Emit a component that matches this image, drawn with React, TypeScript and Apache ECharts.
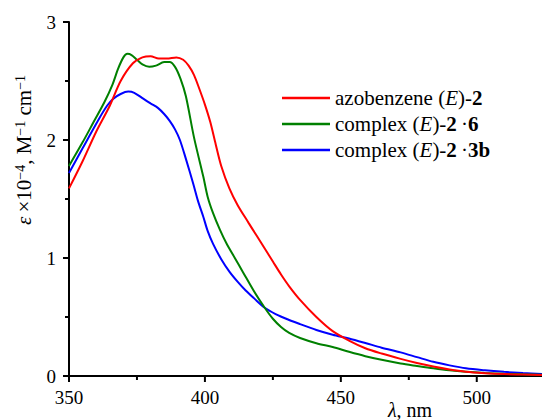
import React, { useEffect, useRef } from "react";
import * as echarts from "echarts";

const seriesNames = ["azobenzene (E)-2", "complex (E)-2·6", "complex (E)-2·3b"];
const legendLabels = [
  "azobenzene ({i|E})-{b|2}",
  "complex ({i|E})-{b|2}\u2009·{b|6}",
  "complex ({i|E})-{b|2}\u2009·{b|3b}",
];
const colors = ["#ff0000", "#008000", "#0000ff"];

const redX = [350, 355, 360, 365, 369, 373.5, 377, 380, 383, 386, 389.5, 392, 394, 396, 398, 400, 402, 404, 406, 409, 412, 416, 419, 422, 425, 428, 431, 435, 441, 447, 453, 459, 465, 472, 478, 484, 490, 496, 503, 510, 517, 524];
const redY = [1.59, 1.82, 2.07, 2.29, 2.5, 2.65, 2.7, 2.71, 2.69, 2.69, 2.7, 2.68, 2.63, 2.55, 2.43, 2.3, 2.15, 1.96, 1.78, 1.59, 1.45, 1.3, 1.19, 1.08, 0.97, 0.86, 0.76, 0.645, 0.5, 0.38, 0.3, 0.235, 0.19, 0.145, 0.11, 0.08, 0.055, 0.036, 0.024, 0.016, 0.012, 0.008];

const greenX = [350, 355, 359, 363, 366, 368, 370, 371.5, 373, 375, 377, 379.5, 382, 385, 387, 389, 391, 393, 396, 399.4, 401, 403, 405.5, 408, 411, 414, 418, 422, 425, 428, 431, 435, 441, 447, 453, 459, 465, 472, 478, 484, 490, 496, 503, 510, 517, 524];
const greenY = [1.78, 1.98, 2.15, 2.32, 2.47, 2.6, 2.7, 2.73, 2.72, 2.68, 2.64, 2.62, 2.63, 2.66, 2.66, 2.62, 2.52, 2.37, 2.02, 1.69, 1.52, 1.38, 1.24, 1.12, 1.0, 0.88, 0.72, 0.578, 0.485, 0.415, 0.365, 0.322, 0.278, 0.245, 0.205, 0.168, 0.137, 0.106, 0.085, 0.065, 0.048, 0.036, 0.026, 0.019, 0.014, 0.01];

const blueX = [350, 355, 360.8, 364, 366.3, 369, 371.8, 374, 377.3, 380, 382.8, 385, 387.1, 389, 390.8, 393, 395.7, 397.5, 399.4, 401, 403, 406, 409, 412, 415, 418, 422, 426, 431, 435, 441, 447, 453, 459, 465, 472, 478, 484, 490, 496, 503, 510, 517, 524];
const blueY = [1.72, 1.93, 2.17, 2.29, 2.35, 2.39, 2.41, 2.4, 2.35, 2.31, 2.27, 2.22, 2.16, 2.09, 2.0, 1.84, 1.63, 1.48, 1.35, 1.23, 1.12, 0.99, 0.885, 0.8, 0.725, 0.66, 0.578, 0.525, 0.475, 0.44, 0.39, 0.35, 0.318, 0.28, 0.24, 0.2, 0.16, 0.12, 0.09, 0.065, 0.048, 0.035, 0.025, 0.017];

const xTicks = [350, 400, 450, 500];
const xMinorTicks = [375, 425, 475];
const yTicks = [0, 1, 2, 3];
const yMinorTicks = [0.5, 1.5, 2.5];

const X_MIN = 350;
const X_MAX = 524;
const FONT = "'Liberation Serif', 'Times New Roman', serif";

function pairs(xs: number[], ys: number[]) {
  return xs.map((x, i) => [x, ys[i]]);
}

export default function App() {
  const ref = useRef<HTMLDivElement>(null);
  useEffect(() => {
    if (!ref.current) return;
    const chart = echarts.init(ref.current, null, { renderer: "svg" });
    const data = [pairs(redX, redY), pairs(greenX, greenY), pairs(blueX, blueY)];
    const richBase = { fontFamily: FONT, fontSize: 21, color: "#000", lineHeight: 22 };
    const MAJOR = 6;
    const MINOR = 4;
    const TICK_COLOR = "#000000";
    const xTickData = [...xTicks.map((v) => [v, 0, MAJOR]), ...xMinorTicks.map((v) => [v, 0, MINOR])];
    const yTickData = [...yTicks.map((v) => [X_MIN, v, MAJOR]), ...yMinorTicks.map((v) => [X_MIN, v, MINOR])];
    chart.setOption({
      animation: false,
      backgroundColor: "#fff",
      grid: { left: 69, right: 0, top: 22, bottom: 44, containLabel: false },
      xAxis: {
        type: "value",
        min: X_MIN,
        max: X_MAX,
        position: "bottom",
        axisLine: { show: true, onZero: false, lineStyle: { color: "#000", width: 2 } },
        axisTick: { show: false },
        axisLabel: { customValues: xTicks, color: "#000", fontFamily: FONT, fontSize: 19, margin: 12 },
        splitLine: { show: false },
      },
      yAxis: {
        type: "value",
        min: 0,
        max: 3,
        interval: 1,
        axisLine: { show: true, lineStyle: { color: "#000", width: 2 } },
        axisTick: { show: false },
        axisLabel: { color: "#000", fontFamily: FONT, fontSize: 19, margin: 13 },
        splitLine: { show: false },
      },
      legend: {
        orient: "vertical",
        left: 282,
        top: 87,
        padding: 0,
        icon: "rect",
        itemWidth: 48,
        itemHeight: 2.5,
        itemGap: 4,
        data: seriesNames,
        formatter: (name: string) => legendLabels[seriesNames.indexOf(name)],
        textStyle: {
          ...richBase,
          rich: {
            i: { ...richBase, fontStyle: "italic" },
            b: { ...richBase, fontWeight: "bold" },
          },
        },
      },
      graphic: [
        {
          type: "text",
          x: 24,
          y: 150,
          rotation: Math.PI / 2,
          style: {
            text: "{e|ε}\u2009×10{s|−4}, M{s|−1} cm{s|−1}",
            fontFamily: FONT,
            fontSize: 21,
            fill: "#000",
            align: "center",
            verticalAlign: "middle",
            rich: {
              e: { fontFamily: FONT, fontSize: 21, fontStyle: "italic", fill: "#000" },
              s: { fontFamily: FONT, fontSize: 14, verticalAlign: "top", fill: "#000" },
            },
          },
        },
        {
          type: "text",
          x: 410,
          y: 410,
          style: {
            text: "{l|λ}, nm",
            fontFamily: FONT,
            fontSize: 20,
            fill: "#000",
            align: "center",
            verticalAlign: "middle",
            rich: {
              l: { fontFamily: FONT, fontSize: 20, fontStyle: "italic", fill: "#000" },
            },
          },
        },
      ],
      series: [
        ...seriesNames.map((name, i) => ({
          name,
          type: "line",
          data: data[i],
          smooth: 0.3,
          symbol: "none",
          lineStyle: { color: colors[i], width: 2 },
          itemStyle: { color: colors[i] },
          z: 3 - i,
        })),
        {
          type: "custom",
          name: "xticks",
          clip: false,
          silent: true,
          encode: { x: 0, y: 1 },
          data: xTickData,
          renderItem: (_p: any, api: any) => {
            const p = api.coord([api.value(0), api.value(1)]);
            const len = api.value(2);
            return {
              type: "line",
              shape: { x1: p[0], y1: p[1], x2: p[0], y2: p[1] + len },
              style: { stroke: TICK_COLOR, lineWidth: 2 },
            };
          },
          z: 5,
        },
        {
          type: "custom",
          name: "yticks",
          clip: false,
          silent: true,
          encode: { x: 0, y: 1 },
          data: yTickData,
          renderItem: (_p: any, api: any) => {
            const p = api.coord([api.value(0), api.value(1)]);
            const len = api.value(2);
            return {
              type: "line",
              shape: { x1: p[0] - len, y1: p[1], x2: p[0], y2: p[1] },
              style: { stroke: TICK_COLOR, lineWidth: 2 },
            };
          },
          z: 5,
        },
      ],
    });
    return () => chart.dispose();
  }, []);
  return <div ref={ref} style={{ position: "absolute", left: 0, top: 0, width: 542, height: 420 }} />;
}
